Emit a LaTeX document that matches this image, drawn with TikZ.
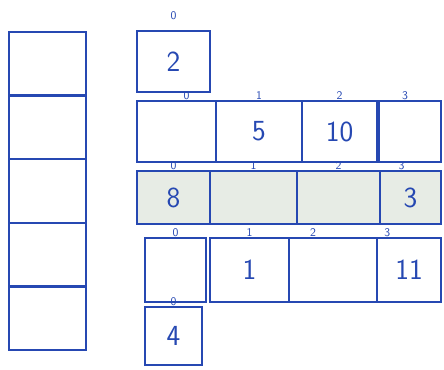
\documentclass[tikz,border=0pt]{standalone}
\usepackage{tikz}
\usetikzlibrary{positioning}
\definecolor{ink}{RGB}{38,72,178}
\definecolor{rowshade}{RGB}{231,236,229}
\tikzset{
  cell/.style={draw=ink,line width=2pt,outer sep=0pt,inner sep=0pt,text=ink,font=\sffamily\Huge,minimum width=#1*0.03cm},
  cellht/.style={minimum height=#1*0.03cm},
  shaded/.style={fill=rowshade},
  idx/.style={text=ink,font=\sffamily,inner sep=1pt}
}
\begin{document}
\begin{tikzpicture}[x=0.03cm,y=-0.03cm]
  \useasboundingbox (0,0) rectangle (444,370);
  % left column
  \node[cell=77,cellht=63.6,anchor=north west] (s0) at (9,32) {};
  \node[cell=77,cellht=63.6,below=0pt of s0] (s1) {};
  \node[cell=77,cellht=63.6,below=0pt of s1] (s2) {};
  \node[cell=77,cellht=63.6,below=0pt of s2] (s3) {};
  \node[cell=77,cellht=63.6,below=0pt of s3] (s4) {};
  % row 0
  \node[cell=73,cellht=61,anchor=north west,label={[idx,label distance=0.3cm]above:0}] (r0c0) at (137,31) {2};
  % row 1
  \node[cell=79,cellht=61,anchor=north west,label={[idx,xshift=0.3cm]above:0}] (r1c0) at (137,101) {};
  \node[cell=86,cellht=61,right=0pt of r1c0,label={[idx]above:1}] (r1c1) {5};
  \node[cell=75,cellht=61,right=0pt of r1c1,label={[idx]above:2}] (r1c2) {10};
  \node[cell=62,cellht=61,right=0.06cm of r1c2,label={[idx,xshift=-0.15cm]above:3}] (r1c3) {};
  % row 2
  \node[cell=73,cellht=53,shaded,anchor=north west,label={[idx]above:0}] (r2c0) at (137,171) {8};
  \node[cell=87,cellht=53,shaded,right=0pt of r2c0,label={[idx]above:1}] (r2c1) {};
  \node[cell=83,cellht=53,shaded,right=0pt of r2c1,label={[idx]above:2}] (r2c2) {};
  \node[cell=61,cellht=53,shaded,right=0pt of r2c2,label={[idx,xshift=-0.27cm]above:3}] (r2c3) {3};
  % row 3
  \node[cell=61,cellht=64,anchor=north west,label={[idx]above:0}] (r3c0) at (145,238) {};
  \node[cell=79,cellht=64,right=0.12cm of r3c0,label={[idx]above:1}] (r3c1) {1};
  \node[cell=88,cellht=64,right=0pt of r3c1,label={[idx,xshift=-0.6cm]above:2}] (r3c2) {};
  \node[cell=64,cellht=64,right=0pt of r3c2,label={[idx,xshift=-0.65cm]above:3}] (r3c3) {11};
  % row 4
  \node[cell=57,cellht=58,anchor=north west,label={[idx]above:0}] (r4c0) at (145,307) {4};
\end{tikzpicture}
\end{document}
